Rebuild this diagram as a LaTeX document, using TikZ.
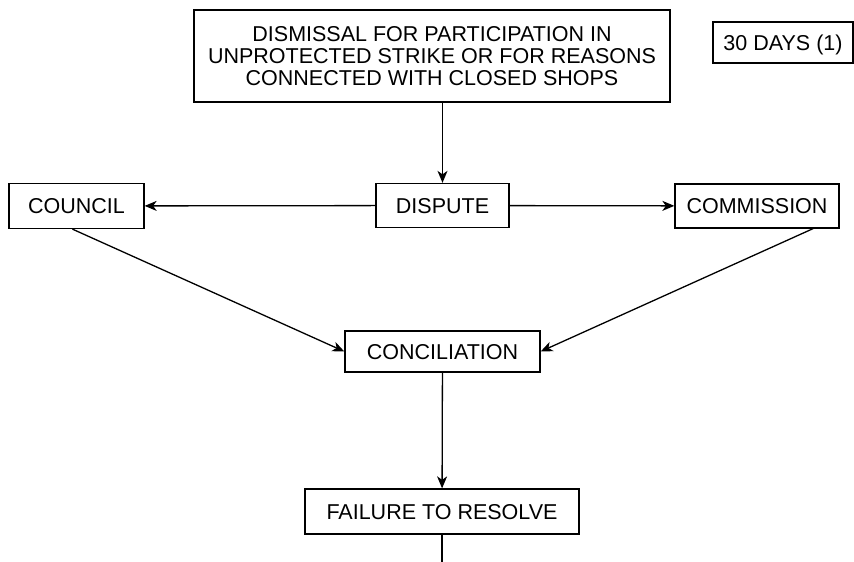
\documentclass[tikz,border=0pt]{standalone}
\usepackage{fontspec}
\setmainfont{Liberation Sans}
\usetikzlibrary{arrows,arrows.meta}

\begin{document}
\begin{tikzpicture}[x=1pt,y=-1pt,line width=1.3pt,>={Stealth[length=12pt,width=10pt,inset=3.5pt]},
    box/.style={draw,inner sep=0pt,align=center,font=\fontsize{21.5}{22}\selectfont},
    one/.style={box,text height=15.4pt,text depth=0pt}]
      \useasboundingbox (0,0) rectangle (854,562);
      \node (DSM) [box,minimum width=476,minimum height=92] at (432,56)
        {DISMISSAL FOR PARTICIPATION IN\\UNPROTECTED STRIKE OR FOR REASONS\\CONNECTED WITH CLOSED SHOPS};
      \node (DAYS) [one,minimum width=140,minimum height=41] at (783,42.5) {30 DAYS (1)};
      \node (DSP) [one,minimum width=133,minimum height=44] at (442.5,205.5) {DISPUTE};
      \node (CNL) [one,minimum width=135,minimum height=45] at (76.5,206) {COUNCIL};
      \node (CMS) [one,minimum width=164,minimum height=44] at (757,206) {COMMISSION};
      \node (CON) [one,minimum width=195,minimum height=41] at (442.5,351.5) {CONCILIATION};
      \node (FTR) [one,minimum width=274,minimum height=45] at (442,511.5) {FAILURE TO RESOLVE};
      \coordinate (end) at (442,562);
      \draw[->] (DSP |- DSM.south) -- (DSP);
      \draw[->] (DSP) -- (CNL);
      \draw[->] (DSP) -- (CMS);
      \draw[->] ([xshift=-4]CNL.south) -- (CON.west);
      \draw[->] ([xshift=56]CMS.south) -- (CON.east);
      \draw[->] (CON) -- (FTR);
      \draw (FTR) -- (end);
    \end{tikzpicture}
\end{document}
